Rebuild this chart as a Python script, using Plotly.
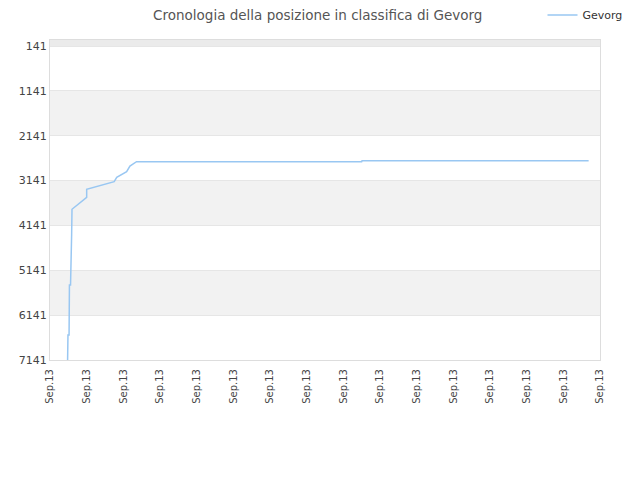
import plotly.graph_objects as go

# Data (x = position along the date axis, y = ranking)
positions = [0.48, 0.49, 0.52, 0.53, 0.56, 0.57, 0.59, 0.60, 1.00, 1.00, 1.09,
             1.75, 1.82, 2.09, 2.18, 2.36, 8.50, 8.51, 14.69]
ranks = [7141, 6583, 6583, 5468, 5468, 4354, 4354, 3781, 3514, 3335, 3313,
         3166, 3068, 2943, 2816, 2720, 2720, 2698, 2698]
tick_positions = list(range(16))
tick_labels = ["Sep.13"] * 16
y_ticks = [141, 1141, 2141, 3141, 4141, 5141, 6141, 7141]
y_top = 7
series_name = "Gevorg"
title = "Cronologia della posizione in classifica di Gevorg"

fig = go.Figure()
fig.add_trace(go.Scatter(
    x=positions, y=ranks, mode="lines", name=series_name,
    line=dict(color="#99c7f2", width=1.5), showlegend=True,
))

# alternating bands
band_edges = [y_top] + y_ticks
shapes = []
for i in range(len(band_edges) - 1):
    if i % 2 == 0:
        shapes.append(dict(type="rect", xref="paper", yref="y", x0=0, x1=1,
                           y0=band_edges[i], y1=band_edges[i + 1],
                           fillcolor="#ebebeb" if i == 0 else "#f2f2f2",
                           line=dict(width=0), layer="below"))

fig.update_layout(
    width=640, height=480,
    margin=dict(l=42, r=48, t=32, b=128, autoexpand=False),
    paper_bgcolor="white", plot_bgcolor="white",
    font=dict(family="DejaVu Sans", size=11, color="#444"),
    title=dict(text=title, x=0.484, xanchor="center", y=0.985, yanchor="middle",
               font=dict(size=13.5, color="#555")),
    shapes=shapes,
    showlegend=True,
    legend=dict(orientation="h", x=1.05, xanchor="right", y=1.078, yanchor="middle",
                font=dict(size=11, color="#333"), bgcolor="rgba(0,0,0,0)"),
    xaxis=dict(range=[0, 15], tickvals=tick_positions, ticktext=tick_labels,
               tickangle=-90, showgrid=False, zeroline=False, automargin=False,
               showline=True, linecolor="#dddddd", mirror=True,
               ticks="", ticklabelstandoff=4,
               tickfont=dict(size=10, color="#444")),
    yaxis=dict(range=[7141, y_top], tickvals=y_ticks, showgrid=True,
               gridcolor="#e6e6e6", zeroline=False, automargin=False,
               showline=True, linecolor="#dddddd", mirror=True,
               ticks="", tickfont=dict(size=11, color="#444")),
)

fig.write_html("out.html")
